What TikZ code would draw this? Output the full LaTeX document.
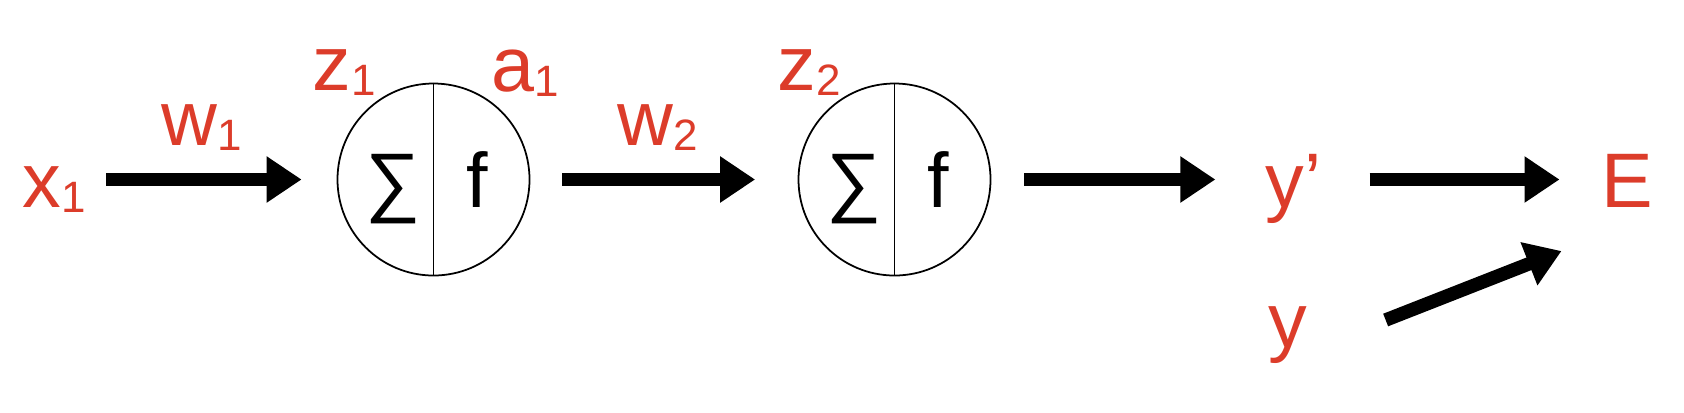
\documentclass[tikz,border=0pt]{standalone}
\usepackage{fontspec}
\setmainfont{Liberation Sans}
\usetikzlibrary{arrows.meta}
\usepackage{xcolor}
\definecolor{LabelRed}{HTML}{DC3C2A}
\newcommand{\low}[1]{\raisebox{-1.6pt}{\fontsize{12.5}{12.5}\selectfont #1}}

\begin{document}
\begin{tikzpicture}[font=\fontsize{22}{26}\selectfont,
    lbl/.style={text=LabelRed,inner sep=0pt,anchor=base},
    op/.style={inner sep=0pt,anchor=base},
    neuron/.style={draw,circle,line width=0.5pt,minimum size=1.92cm,inner sep=0pt},
    conn/.style={line width=0.135cm,-{Triangle[length=0.35cm,width=0.44cm]}}]
    \useasboundingbox (0,0) rectangle (16.84,-4.12);

    % neurons
    \node[neuron] (n1) at (4.335,-1.795) {};
    \node[neuron] (n2) at (8.945,-1.795) {};
    \draw[line width=0.5pt] (n1.north) -- (n1.south);
    \draw[line width=0.5pt] (n2.north) -- (n2.south);
    \node[op] (sum1) at (3.93,-2.07) {∑};
    \node[op] (act1) at (4.775,-2.07) {f};
    \node[op] (sum2) at (8.54,-2.07) {∑};
    \node[op] (act2) at (9.385,-2.07) {f};

    % labels
    \node[lbl] (x1) at (0.54,-2.07) {x\low{1}};
    \node[lbl] (w1) at (2.015,-1.45) {w\low{1}};
    \node[lbl] (z1) at (3.44,-0.90) {z\low{1}};
    \node[lbl] (a1) at (5.25,-0.91) {a\low{1}};
    \node[lbl] (w2) at (6.58,-1.45) {w\low{2}};
    \node[lbl] (z2) at (8.09,-0.90) {z\low{2}};
    \node[lbl] (yp) at (12.935,-2.07) {y’};
    \node[lbl] (E) at (16.27,-2.07) {E};
    \node[lbl] (y) at (12.88,-3.47) {y};

    % connections
    \draw[conn,shorten <=0.20cm,shorten >=0.35cm] (x1.east |- n1.west) -- (n1.west);
    \draw[conn,shorten <=0.32cm,shorten >=0.425cm] (n1.east) -- (n2.west);
    \draw[conn,shorten <=0.33cm,shorten >=0.495cm] (n2.east) -- (n2.east -| yp.west);
    \draw[conn,shorten <=0.475cm,shorten >=0.41cm] (yp.east |- n2.east) -- (E.west |- n2.east);
    \draw[conn] ([shift={(0.776,0.27)}]y.base east) -- ([shift={(-0.39,-0.44)}]E.base west);
\end{tikzpicture}
\end{document}
